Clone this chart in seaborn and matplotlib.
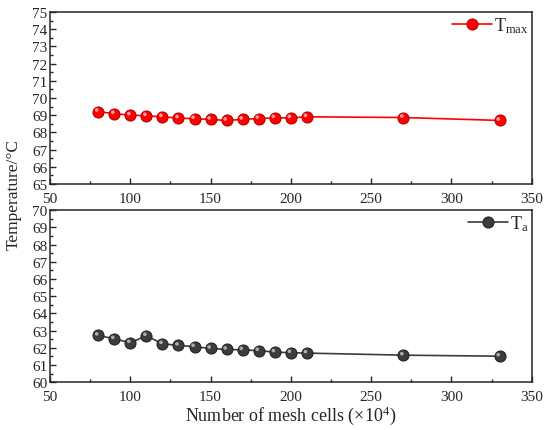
import numpy as np
import pandas as pd
import matplotlib
matplotlib.use("Agg")
from matplotlib import pyplot as plt
from matplotlib.ticker import MultipleLocator
import matplotlib.transforms as mtransforms
import seaborn as sns

# Dane
mesh_cells = [80, 90, 100, 110, 120, 130, 140, 150, 160, 170, 180, 190, 200, 210, 270, 330]
t_max = [69.21, 69.08, 69.00, 68.96, 68.90, 68.83, 68.79, 68.75, 68.69, 68.75,
         68.80, 68.84, 68.84, 68.90, 68.86, 68.69]
t_a = [62.72, 62.52, 62.29, 62.70, 62.23, 62.14, 62.06, 61.96, 61.90, 61.88,
       61.83, 61.75, 61.71, 61.69, 61.57, 61.51]

sns.set_style("ticks")
plt.rcParams['font.family'] = ['Liberation Serif', 'DejaVu Serif']
plt.rcParams['mathtext.default'] = 'regular'
plt.rcParams['xtick.direction'] = 'in'
plt.rcParams['ytick.direction'] = 'in'

df = pd.DataFrame({"cells": mesh_cells, "tmax": t_max, "ta": t_a})

fig = plt.figure(figsize=(5.5, 4.31), dpi=100)
ax1 = fig.add_axes([0.0909, 0.571, 0.876, 0.399])
ax2 = fig.add_axes([0.0909, 0.111, 0.876, 0.399])

panels = [
    (ax1, "tmax", "T$_{max}$", "#ff0000", "#b00000", "#ffb0b0", (65, 75)),
    (ax2, "ta", "T$_{a}$", "#3c3c3c", "#202020", "#b8b8b8", (60, 70)),
]

for ax, col, label, color, edge, light, ylim in panels:
    sns.lineplot(data=df, x="cells", y=col, ax=ax, color=color, linewidth=1.2,
                 marker="o", markersize=8, markerfacecolor=color,
                 markeredgecolor=edge, markeredgewidth=0.7, label=label)
    # odblask na kulkach
    shift = mtransforms.ScaledTranslation(-1.5 / 100, 1.5 / 100, fig.dpi_scale_trans)
    sns.scatterplot(data=df, x="cells", y=col, ax=ax, s=7, color=light,
                    edgecolor="none", alpha=0.9, legend=False, zorder=4,
                    transform=ax.transData + shift)
    ax.set_xlim(50, 350)
    ax.set_ylim(*ylim)
    ax.xaxis.set_major_locator(MultipleLocator(50))
    ax.xaxis.set_minor_locator(MultipleLocator(25))
    ax.yaxis.set_major_locator(MultipleLocator(1))
    ax.yaxis.set_minor_locator(MultipleLocator(0.5))
    ax.tick_params(which="major", length=4, width=1, labelsize=11, pad=2)
    ax.tick_params(which="minor", length=2, width=1)
    ax.tick_params(axis="x", pad=6)
    for s in ax.spines.values():
        s.set_linewidth(1.1)
        s.set_visible(True)
    ax.set_xlabel("")
    ax.set_ylabel("")
    ax.legend(loc="upper right", bbox_to_anchor=(1.012, 1.035), frameon=False,
              fontsize=13, handlelength=2.2, handletextpad=0.1, borderaxespad=0.1)

ax2.set_xlabel("Number of mesh cells (×10$^4$)", fontsize=13, labelpad=0)
fig.text(0.025, 0.548, "Temperature/°C", rotation=90, va="center", ha="center", fontsize=12.5)

fig.savefig("out.png", dpi=100)
